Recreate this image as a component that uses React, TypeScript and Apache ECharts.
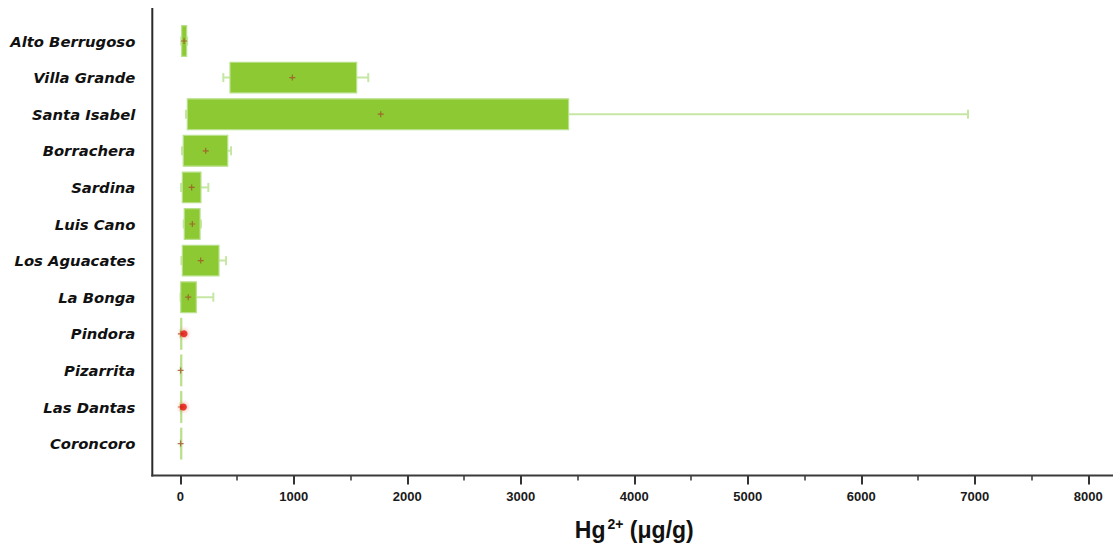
import React, { useEffect, useRef } from "react";
import * as echarts from "echarts";

const categories = [
  "Alto Berrugoso",
  "Villa Grande",
  "Santa Isabel",
  "Borrachera",
  "Sardina",
  "Luis Cano",
  "Los Aguacates",
  "La Bonga",
  "Pindora",
  "Pizarrita",
  "Las Dantas",
  "Coroncoro",
];
const whiskerLow = [8, 379, 50, 15, 6, 30, 10, 2, 3, 3, 3, 3];
const q1 = [12, 438, 62, 26, 18, 35, 18, 4, 4, 4, 4, 4];
const q3 = [56, 1554, 3421, 418, 182, 174, 341, 141, 6, 6, 6, 6];
const whiskerHigh = [60, 1656, 6940, 447, 247, 182, 403, 291, 7, 7, 7, 7];
const means = [33, 987, 1766, 224, 100, 106, 180, 70, 5, 3, 5, 3];
const outliers: [number, number][] = [
  [33, 8],
  [27, 10],
];
const xTicks = { min: 0, max: 8000, interval: 1000 };

const BOX_FILL = "#8cc932";
const BOX_EDGE = "#b9e18c";
const WHISKER = "#c6e7a3";

export default function App() {
  const ref = useRef<HTMLDivElement>(null);
  useEffect(() => {
    if (!ref.current) return;
    const chart = echarts.init(ref.current, undefined, { renderer: "svg" });
    const boxData = categories.map((_, i) => [
      i,
      whiskerLow[i],
      q1[i],
      q3[i],
      whiskerHigh[i],
    ]);
    const meanData = categories.map((_, i) => [means[i], i]);
    const option: any = {
      animation: false,
      backgroundColor: "#ffffff",
      grid: { left: 180.3, right: 24.7, top: 22.7, bottom: 87.1, containLabel: false },
      xAxis: {
        type: "value",
        min: xTicks.min,
        max: xTicks.max,
        interval: xTicks.interval,
        offset: 13.6,
        axisLine: { show: false },
        axisTick: {
          show: true,
          inside: false,
          length: 9,
          lineStyle: { color: "#333", width: 2 },
        },
        minorTick: {
          show: true,
          splitNumber: 2,
          length: 5,
          lineStyle: { color: "#333", width: 1.5 },
        },
        splitLine: { show: false },
        axisLabel: {
          margin: 14,
          color: "#1a1a1a",
          fontFamily: "Liberation Sans, Arial, sans-serif",
          fontWeight: "bold",
          fontSize: 13,
          formatter: (v: number) => String(v),
        },
        name: "{a|Hg}{b|2+}{a| (μg/g)}",
        nameLocation: "middle",
        nameGap: 41,
        nameTextStyle: {
          rich: {
            a: {
              fontFamily: "Liberation Sans, Arial, sans-serif",
              fontWeight: "bold",
              fontSize: 23,
              color: "#111",
              lineHeight: 27,
            },
            b: {
              fontFamily: "Liberation Sans, Arial, sans-serif",
              fontWeight: "bold",
              fontSize: 14,
              color: "#111",
              verticalAlign: "top",
              lineHeight: 27,
              padding: [0, 0, 8, 2],
            },
          },
        },
      },
      yAxis: {
        type: "category",
        data: categories,
        inverse: true,
        axisLine: { show: false },
        axisTick: { show: false },
        splitLine: { show: false },
        axisLabel: {
          margin: 45,
          color: "#111",
          fontFamily: "DejaVu Sans, sans-serif",
          fontWeight: "bold",
          fontStyle: "italic",
          fontSize: 14.8,
        },
      },
      graphic: [
        {
          type: "line",
          shape: { x1: 152.3, y1: 8, x2: 152.3, y2: 476.5 },
          style: { stroke: "#2a2a2a", lineWidth: 2 },
          z: 10,
        },
        {
          type: "line",
          shape: { x1: 151.3, y1: 475.5, x2: 1113, y2: 475.5 },
          style: { stroke: "#3a3a3a", lineWidth: 2 },
          z: 10,
        },
      ],
      series: [
        {
          type: "custom",
          name: "box",
          data: boxData,
          encode: { x: [1, 2, 3, 4], y: 0 },
          renderItem: (params: any, api: any) => {
            const idx = api.value(0);
            const lo = api.coord([api.value(1), idx]);
            const a = api.coord([api.value(2), idx]);
            const b = api.coord([api.value(3), idx]);
            const hi = api.coord([api.value(4), idx]);
            const band = api.size([0, 1])[1];
            const h = band * 0.84;
            const cy = a[1];
            const cap = 9;
            const w = Math.max(b[0] - a[0], 1);
            return {
              type: "group",
              children: [
                {
                  type: "line",
                  shape: { x1: lo[0], y1: cy, x2: hi[0], y2: cy },
                  style: { stroke: WHISKER, lineWidth: 2 },
                },
                {
                  type: "line",
                  shape: { x1: lo[0], y1: cy - cap / 2, x2: lo[0], y2: cy + cap / 2 },
                  style: { stroke: WHISKER, lineWidth: 2 },
                },
                {
                  type: "line",
                  shape: { x1: hi[0], y1: cy - cap / 2, x2: hi[0], y2: cy + cap / 2 },
                  style: { stroke: WHISKER, lineWidth: 2 },
                },
                {
                  type: "rect",
                  shape: { x: a[0], y: cy - h / 2, width: w, height: h },
                  style: { fill: BOX_FILL, stroke: BOX_EDGE, lineWidth: 1.2 },
                },
              ],
            };
          },
          z: 2,
        },
        {
          type: "scatter",
          name: "mean",
          data: meanData,
          symbol: "path://M4,0 L6,0 L6,4 L10,4 L10,6 L6,6 L6,10 L4,10 L4,6 L0,6 L0,4 L4,4 Z",
          symbolSize: 6,
          itemStyle: { color: "#a4512a" },
          z: 5,
        },
        {
          type: "scatter",
          name: "outlier",
          data: outliers,
          symbol: "circle",
          symbolSize: 7,
          itemStyle: { color: "#e3140f", shadowBlur: 4, shadowColor: "rgba(240,40,30,0.7)" },
          z: 6,
        },
      ],
    };
    chart.setOption(option);
    return () => chart.dispose();
  }, []);
  return (
    <div
      ref={ref}
      style={{ position: "fixed", left: 0, top: 0, width: 1113, height: 549 }}
    />
  );
}
